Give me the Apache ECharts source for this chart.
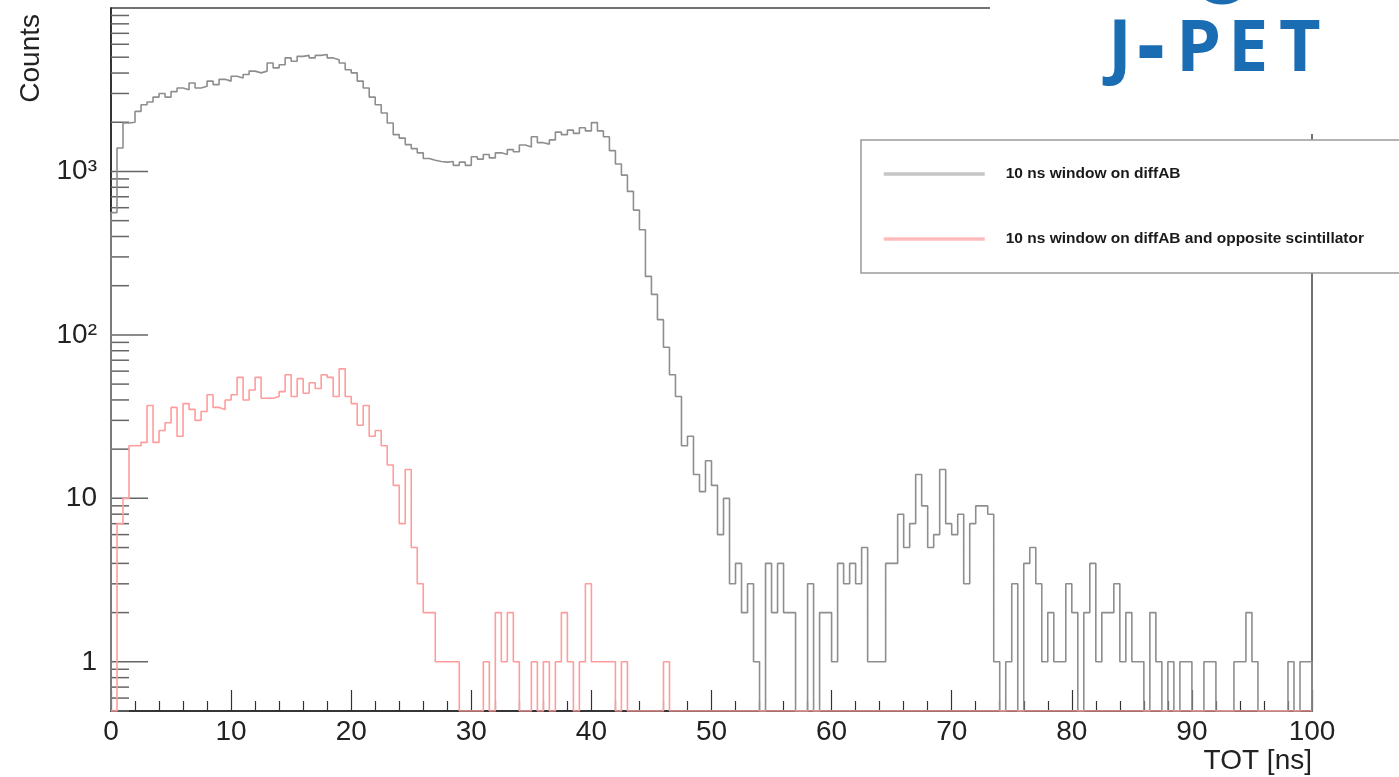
<!DOCTYPE html>
<html>
<head>
<meta charset="utf-8">
<title>TOT spectrum</title>
<script src="https://cdn.jsdelivr.net/npm/echarts@6/dist/echarts.min.js"></script>
<style>
  html, body { margin: 0; padding: 0; background: #ffffff; }
  #chart { width: 1399px; height: 777px; }
</style>
</head>
<body>
<div id="chart"></div>
<script>
// Histogram binning (TOT in ns)
const binWidth = 0.5;
const xMin = 0;
const xMax = 100;

// Counts per 0.5 ns bin, 10 ns window on diffAB
const grayCounts = [
  560, 1390, 1980, 2000, 2330, 2560, 2660, 2850, 3000, 2850,
  3080, 3240, 3160, 3480, 3240, 3320, 3570, 3400, 3660, 3570,
  3820, 3730, 3920, 4110, 4010, 4110, 4610, 4300, 4500, 4950,
  4720, 5060, 5130, 4950, 5130, 5190, 4950, 4830, 4610, 4190,
  4010, 3570, 3240, 2850, 2560, 2280, 1980, 1680, 1600, 1460,
  1380, 1300, 1200, 1170, 1150, 1140, 1150, 1090, 1140, 1090,
  1230, 1190, 1270, 1210, 1300, 1270, 1360, 1320, 1450, 1410,
  1630, 1500, 1470, 1560, 1740, 1680, 1790, 1710, 1850, 1770,
  1990, 1770, 1630, 1340, 1110, 950, 755, 580, 440, 228,
  177, 124, 84, 57, 42, 21, 24, 14, 11, 17,
  12, 6, 10, 3, 4, 2, 3, 1, 0, 4,
  2, 4, 2, 2, 0, 0, 3, 0, 2, 2,
  1, 4, 3, 4, 3, 5, 1, 1, 1, 4,
  4, 8, 5, 7, 14, 9, 5, 6, 15, 7,
  6, 8, 3, 7, 9, 9, 8, 1, 0, 1,
  3, 0, 4, 5, 3, 1, 2, 1, 1, 3,
  2, 0, 2, 4, 1, 2, 2, 3, 1, 2,
  1, 1, 0, 2, 1, 0, 1, 0, 1, 1,
  0, 0, 1, 1, 0, 0, 0, 1, 1, 2,
  1, 0, 0, 0, 0, 0, 1, 0, 1, 1
];

// Counts per 0.5 ns bin, 10 ns window on diffAB and opposite scintillator
const redCounts = [
  0, 7, 10, 21, 21, 22, 37, 22, 26, 29,
  36, 24, 38, 35, 30, 34, 43, 36, 35, 40,
  43, 55, 40, 46, 55, 41, 41, 42, 45, 57,
  42, 54, 44, 51, 47, 57, 55, 42, 62, 42,
  38, 28, 37, 24, 26, 21, 16, 12, 7, 15,
  5, 3, 2, 2, 1, 1, 1, 1, 0, 0,
  0, 0, 1, 0, 2, 1, 2, 1, 0, 0,
  1, 0, 1, 0, 1, 2, 1, 0, 1, 3,
  1, 1, 1, 1, 0, 1, 0, 0, 0, 0,
  0, 0, 1, 0, 0, 0, 0, 0, 0, 0,
  0, 0, 0, 0, 0, 0, 0, 0, 0, 0,
  0, 0, 0, 0, 0, 0, 0, 0, 0, 0,
  0, 0, 0, 0, 0, 0, 0, 0, 0, 0,
  0, 0, 0, 0, 0, 0, 0, 0, 0, 0,
  0, 0, 0, 0, 0, 0, 0, 0, 0, 0,
  0, 0, 0, 0, 0, 0, 0, 0, 0, 0,
  0, 0, 0, 0, 0, 0, 0, 0, 0, 0,
  0, 0, 0, 0, 0, 0, 0, 0, 0, 0,
  0, 0, 0, 0, 0, 0, 0, 0, 0, 0,
  0, 0, 0, 0, 0, 0, 0, 0, 0, 0
];

const seriesNames = ['10 ns window on diffAB', '10 ns window on diffAB and opposite scintillator'];

// Log-axis range and decade labels
const yMin = 0.5;
const yMax = 10000;
const decadeLabels = { 1: '1', 10: '10', 100: '10\u00b2', 1000: '10\u00b3' };

const FONT = "'Liberation Sans', Arial, Helvetica, sans-serif";
const LOGO_BLUE = '#1b6db3';
const LOGO_FONT = "bold 72px 'Open Sans', sans-serif";

// Step outline of a histogram: empty bins sit on the lower frame edge
function histogramOutline(counts) {
  const lift = c => (c > 0 ? c : yMin);
  const pts = [[xMin, yMin]];
  counts.forEach((c, i) => pts.push([xMin + i * binWidth, lift(c)]));
  const end = xMin + counts.length * binWidth;
  pts.push([end, lift(counts[counts.length - 1])]);
  pts.push([end, yMin]);
  return pts;
}

// ROOT-style log ticks: long ones at each decade, short ones at 2..9 x decade
function logTicks() {
  const ticks = [];
  for (let e = -1; e <= 3; e++) {
    const base = Math.pow(10, e);
    for (let m = 1; m <= 9; m++) {
      const v = +(m * base).toPrecision(6);
      if (v < yMin || v > yMax) continue;
      ticks.push([xMin, v, m === 1 ? 1 : 0]);
    }
  }
  return ticks;
}

function logoLetter(ch, x, extra) {
  return Object.assign({ type: 'text', z: 51, x: x, y: 50,
    style: { text: ch, font: LOGO_FONT, fill: LOGO_BLUE, verticalAlign: 'middle' } }, extra || {});
}

const chart = echarts.init(document.getElementById('chart'), null, { renderer: 'canvas' });

const option = {
  animation: false,
  backgroundColor: '#ffffff',
  grid: {
    left: 111, right: 87, top: 8, bottom: 66,
    show: true, borderColor: '#444', borderWidth: 1.5, backgroundColor: 'transparent'
  },
  xAxis: {
    type: 'value', min: xMin, max: xMax, interval: 10,
    name: 'TOT [ns]', nameLocation: 'end', nameGap: 0,
    nameTextStyle: {
      fontFamily: FONT, fontSize: 28, color: '#222',
      align: 'right', verticalAlign: 'top', padding: [36, 0, 0, 0]
    },
    axisLine: { show: true, lineStyle: { color: '#222', width: 1.5 } },
    axisTick: { show: true, inside: true, length: 21, lineStyle: { color: '#333', width: 1.2 } },
    minorTick: { show: true, splitNumber: 5, length: 10, lineStyle: { color: '#333', width: 1.2 } },
    axisLabel: { fontFamily: FONT, fontSize: 28, color: '#222', margin: 7 },
    splitLine: { show: false }
  },
  yAxis: {
    type: 'log', logBase: 10, min: yMin, max: yMax,
    axisLine: { show: true, lineStyle: { color: '#222', width: 1.5 } },
    axisTick: { show: false },
    axisLabel: {
      fontFamily: FONT, fontSize: 28, color: '#222', margin: 14,
      formatter: v => {
        const r = Math.round(v);
        if (Math.abs(v - r) > 1e-6) return '';
        return decadeLabels[r] || '';
      }
    },
    splitLine: { show: false }
  },
  legend: {
    orient: 'vertical', left: 861, top: 140,
    padding: [26, 60, 26, 21],
    itemWidth: 101, itemHeight: 16, itemGap: 49,
    backgroundColor: '#ffffff', borderColor: '#9a9a9a', borderWidth: 1.5,
    selectedMode: false,
    textStyle: {
      fontFamily: FONT, fontSize: 15.5, fontWeight: 'bold', color: '#1a1a1a',
      lineHeight: 16, padding: [0, 0, 0, 16]
    },
    data: [
      { name: seriesNames[0], lineStyle: { color: '#c6c6c6', width: 3.5 }, itemStyle: { opacity: 0 } },
      { name: seriesNames[1], lineStyle: { color: '#ffbcbc', width: 3.5 }, itemStyle: { opacity: 0 } }
    ]
  },
  series: [
    {
      name: 'ticks', type: 'custom', silent: true, z: 1,
      data: logTicks(),
      encode: { x: 0, y: 1 },
      renderItem: (params, api) => {
        const p = api.coord([api.value(0), api.value(1)]);
        const len = api.value(2) ? 37 : 18;
        return {
          type: 'line',
          shape: { x1: p[0], y1: p[1], x2: p[0] + len, y2: p[1] },
          style: { stroke: '#666', lineWidth: 1.5 }
        };
      }
    },
    {
      name: seriesNames[0], type: 'line', step: 'end', symbol: 'none', z: 2,
      data: histogramOutline(grayCounts),
      lineStyle: { color: '#8e8e8e', width: 1.6 },
      itemStyle: { color: '#8e8e8e' }
    },
    {
      name: seriesNames[1], type: 'line', step: 'end', symbol: 'none', z: 3,
      data: histogramOutline(redCounts),
      lineStyle: { color: '#ff9c9c', width: 1.6 },
      itemStyle: { color: '#ff9c9c' }
    }
  ],
  graphic: [
    // J-PET logo panel
    { type: 'rect', z: 50, shape: { x: 990, y: 0, width: 409, height: 134 }, style: { fill: '#ffffff' } },
    { type: 'arc', z: 51, shape: { cx: 1222, cy: -27, r: 29, startAngle: 0, endAngle: Math.PI },
      style: { stroke: LOGO_BLUE, lineWidth: 5, fill: 'none' } },
    logoLetter('J', 1108),
    logoLetter('-', 1137, { scaleX: 1.2, scaleY: 1.45 }),
    logoLetter('P', 1176),
    logoLetter('E', 1228),
    logoLetter('T', 1279),
    // vertical axis title
    { type: 'text', z: 10, x: 31, y: 14, rotation: Math.PI / 2,
      style: { text: 'Counts', font: "28px 'Liberation Sans', Arial, sans-serif", fill: '#222', align: 'right', verticalAlign: 'middle' } }
  ]
};

chart.setOption(option);
</script>
</body>
</html>
